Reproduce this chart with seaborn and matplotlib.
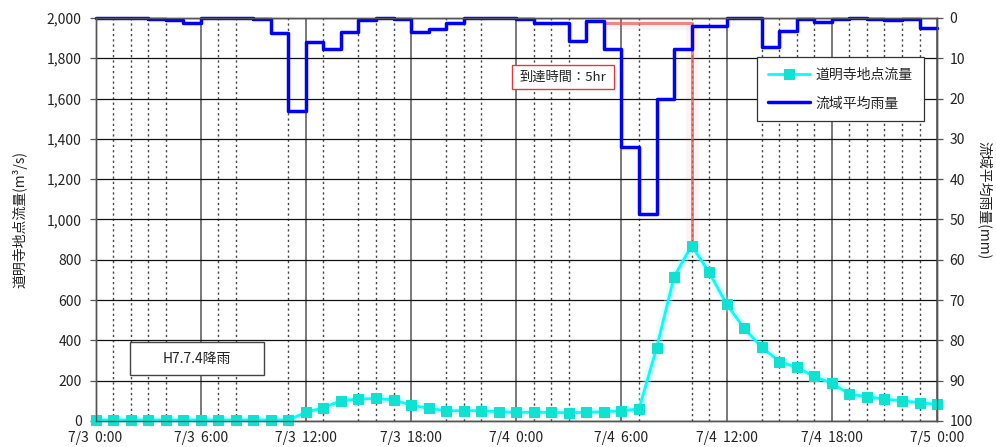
import matplotlib
matplotlib.use("Agg")
import matplotlib.pyplot as plt
from matplotlib.patches import Rectangle
import seaborn as sns
import pandas as pd

# Hourly series, 7/3 0:00 .. 7/5 0:00
hours = list(range(49))
flow = [5, 5, 5, 5, 5, 5, 5, 5, 5, 5, 5, 5,
        43, 66, 101, 109, 112, 104, 79, 63, 51, 51, 51, 46,
        43, 43, 43, 41, 43, 46, 51, 60, 362, 716, 870, 738,
        579, 460, 366, 295, 266, 221, 187, 133, 121, 108, 101, 91,
        83]
# hourly basin-average rainfall (mm), value for hour h spans h..h+1
rain = [0, 0, 0, 0.3, 0.6, 1.3, 0, 0, 0, 0.3, 3.7, 23.2,
        6.0, 7.8, 3.5, 0.6, 0, 0.3, 3.6, 2.8, 1.2, 0, 0, 0,
        0.3, 1.2, 1.2, 5.7, 0.8, 7.6, 32.0, 48.7, 20.0, 7.6, 2.0, 2.0,
        0, 0, 7.2, 3.3, 0.3, 1.0, 0.3, 0, 0.3, 0.5, 0.3, 2.4]

tick_hours = [0, 6, 12, 18, 24, 30, 36, 42, 48]
tick_labels = ["7/3  0:00", "7/3  6:00", "7/3  12:00", "7/3  18:00",
               "7/4  0:00", "7/4  6:00", "7/4  12:00", "7/4  18:00",
               "7/5  0:00"]
minor_hours = [1, 2, 3, 4, 7, 8, 11, 13, 15, 16, 17, 20, 21, 22,
               25, 26, 27, 31, 34, 35, 38, 39, 40, 41, 43, 44, 45, 46, 47]

arrival_start = 29
arrival_peak = 34
arrival_level = 1975
arrival_label = "到達時間：5hr"
event_label = "H7.7.4降雨"
flow_name = "道明寺地点流量"
rain_name = "流域平均雨量"

sns.set_theme(style="white")
plt.rcParams["font.family"] = ["Noto Sans CJK JP", "DejaVu Sans"]
plt.rcParams["axes.unicode_minus"] = False

fig = plt.figure(figsize=(9.96, 4.47), dpi=100)
ax = fig.add_axes([0.0959, 0.0582, 0.8449, 0.9016])
ax2 = ax.twinx()

flow_df = pd.DataFrame({"hour": hours, "flow": flow})
rain_df = pd.DataFrame({"hour": hours, "rain": rain + [rain[-1]]})

# grid
ax.set_xlim(0, 48)
ax.set_ylim(0, 2000)
ax.set_yticks(range(0, 2001, 200))
ax.yaxis.set_major_formatter(lambda v, p: f"{int(v):,}")
ax.set_xticks(tick_hours)
ax.set_xticklabels(tick_labels)
ax.grid(axis="y", color="#111111", lw=0.9, zorder=0)
ax.grid(axis="x", color="#555555", lw=1.1, zorder=0)
for h in minor_hours:
    ax.axvline(h, color="#444444", lw=1.0, ls=(0, (1.6, 2.2)), zorder=0.5)

# arrival-time marker lines
ax.plot([arrival_start, arrival_peak], [arrival_level, arrival_level],
        color="#f06a6a", lw=9, alpha=0.08, solid_capstyle="butt", zorder=1)
ax.plot([arrival_peak, arrival_peak], [flow[arrival_peak], arrival_level],
        color="#f06a6a", lw=9, alpha=0.08, solid_capstyle="butt", zorder=1)
ax.plot([arrival_start, arrival_peak, arrival_peak],
        [arrival_level, arrival_level, flow[arrival_peak]],
        color="#e85a5a", lw=2.2, alpha=0.7, zorder=1.2)

# flow with soft halo
sns.lineplot(data=flow_df, x="hour", y="flow", ax=ax, color="#aaffff",
             lw=6, alpha=0.35, legend=False, zorder=3, clip_on=False)
sns.lineplot(data=flow_df, x="hour", y="flow", ax=ax, color="#00ffff",
             lw=2.0, marker="s", markersize=6.5, markerfacecolor="#10e2d2",
             markeredgecolor="#10e2d2", legend=False, zorder=4, clip_on=False)
flow_line = ax.lines[-1]

# rainfall on inverted right axis
sns.lineplot(data=rain_df, x="hour", y="rain", ax=ax2, drawstyle="steps-post",
             color="#0000ff", lw=2.5, legend=False, clip_on=False)
rain_line = ax2.lines[-1]
ax2.set_ylim(100, 0)
ax2.set_yticks(range(0, 101, 10))
ax2.set_xlim(0, 48)

for a in (ax, ax2):
    a.set_xlabel("")
    a.set_ylabel("")
    for s in a.spines.values():
        s.set_color("#555555")
        s.set_linewidth(1.0)

ax.tick_params(axis="x", length=0, pad=7, labelsize=10, labelcolor="#222222")
ax.tick_params(axis="y", left=True, length=4, width=0.9, color="#555555",
               pad=6, labelsize=10, labelcolor="#222222")
ax2.tick_params(axis="y", right=True, length=4, width=0.9, color="#555555",
                pad=5, labelsize=10, labelcolor="#222222")

fig.text(20 / 996, 1 - 219 / 447, "道明寺地点流量(m³/s)", rotation=90,
         ha="center", va="center", fontsize=10, color="#222222")
fig.text(985 / 996, 1 - 200 / 447, "流域平均雨量(mm)", rotation=-90,
         ha="center", va="center", fontsize=10, color="#222222")

# annotation boxes
ax2.add_patch(Rectangle((0.041, 0.114), 0.159, 0.082, transform=ax.transAxes,
                        facecolor="white", edgecolor="#444444", lw=1.0, zorder=6))
ax2.text(0.1205, 0.155, event_label, transform=ax.transAxes, ha="center",
         va="center", fontsize=10, color="#222222", zorder=7)
ax2.add_patch(Rectangle((0.4946, 0.8238), 0.1216, 0.0596, transform=ax.transAxes,
                        facecolor="white", edgecolor="#e03a3a", lw=1.0, zorder=6))
ax2.text(0.5554, 0.8536, arrival_label, transform=ax.transAxes, ha="center",
         va="center", fontsize=9.5, color="#222222", zorder=7)

leg = ax2.legend([flow_line, rain_line], [flow_name, rain_name],
                 loc="upper left", bbox_to_anchor=(0.786, 0.904),
                 borderaxespad=0, frameon=True, fancybox=False,
                 edgecolor="#333333", framealpha=1, fontsize=10,
                 borderpad=0.8, labelspacing=1.05, handlelength=3.0,
                 handletextpad=0.4)
leg.get_frame().set_linewidth(0.9)
leg.set_zorder(8)

fig.savefig("out.png", dpi=100, facecolor="white")
